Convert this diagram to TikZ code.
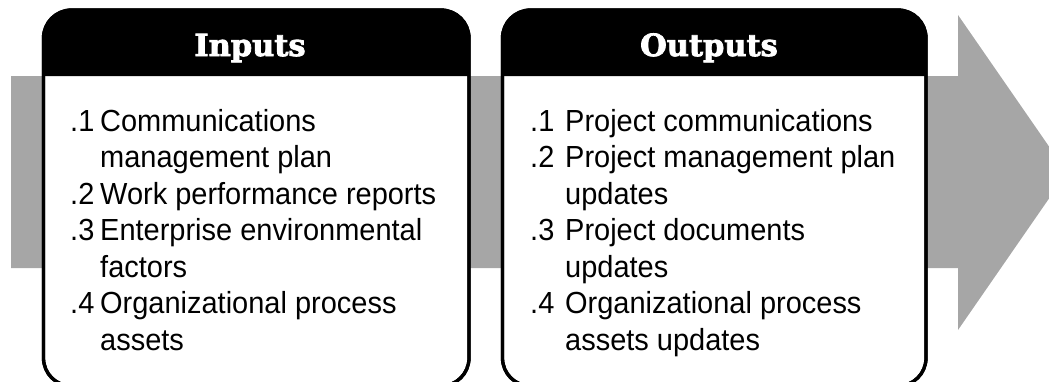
\documentclass[tikz,border=0pt]{standalone}
\usepackage{fontspec}
\setmainfont{Liberation Sans}[FakeStretch=0.95]
\newfontfamily\headfont{DejaVu Serif}[BoldFeatures={FakeBold=2.5}]
\definecolor{arrowgray}{RGB}{166,166,166}
\tikzset{
  boxline/.style={line width=3.3pt, draw=black},
  headtext/.style={text=white, font=\headfont\bfseries\fontsize{30.5}{36}\selectfont, inner sep=0pt, anchor=base},
  listtext/.style={font=\fontsize{30.5}{36.5}\selectfont, inner sep=0pt, anchor=base west, align=left},
}
\begin{document}
\begin{tikzpicture}[x=1pt,y=-1pt]
\useasboundingbox (0,0) rectangle (1049,381);
\clip (0,0) rectangle (1049,381);
% gray arrow
\fill[arrowgray] (11,76) -- (958,76) -- (958,15) -- (1067,172.5) -- (958,330) -- (958,268) -- (11,268) -- cycle;
% Inputs box
\filldraw[boxline, fill=white, rounded corners=28pt] (43.5,10) rectangle (469,386);
\fill[black] (43.5,76) [rounded corners=28pt] -- (43.5,10) -- (469,10) [sharp corners] -- (469,76) -- cycle;
\draw[boxline, rounded corners=28pt] (43.5,10) rectangle (469,386);
% Outputs box
\filldraw[boxline, fill=white, rounded corners=28pt] (502.5,10) rectangle (926,386);
\fill[black] (502.5,76) [rounded corners=28pt] -- (502.5,10) -- (926,10) [sharp corners] -- (926,76) -- cycle;
\draw[boxline, rounded corners=28pt] (502.5,10) rectangle (926,386);
% headers
\node[headtext] (inhead) at (250,56) {Inputs};
\node[headtext] (outhead) at (709,56) {Outputs};
% lists
\node[listtext] (inlist) at (70,131) {\begin{tabular}[t]{@{}l@{}l@{}}
\makebox[30pt][l]{.1} & Communications\\
 & management plan\\
\makebox[30pt][l]{.2} & Work performance reports\\
\makebox[30pt][l]{.3} & Enterprise environmental\\
 & factors\\
\makebox[30pt][l]{.4} & Organizational process\\
 & assets
\end{tabular}};
\node[listtext] (outlist) at (530,131) {\begin{tabular}[t]{@{}l@{}l@{}}
\makebox[35pt][l]{.1} & Project communications\\
\makebox[35pt][l]{.2} & Project management plan\\
 & updates\\
\makebox[35pt][l]{.3} & Project documents\\
 & updates\\
\makebox[35pt][l]{.4} & Organizational process\\
 & assets updates
\end{tabular}};
\end{tikzpicture}
\end{document}
